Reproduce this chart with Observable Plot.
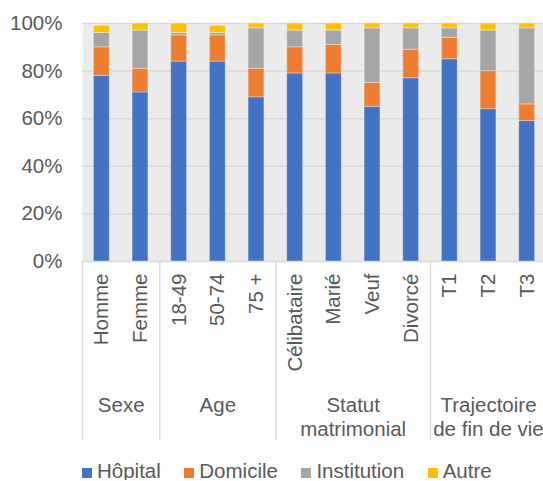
<!DOCTYPE html>
<html lang="fr">
<head>
<meta charset="utf-8">
<script src="https://cdn.jsdelivr.net/npm/d3@7"></script>
<script src="https://cdn.jsdelivr.net/npm/@observablehq/plot@0.6"></script>
<style>
  html, body { margin: 0; padding: 0; background: #fff; }
  #chart svg { display: block; }
  #legend {
    display: flex;
    align-items: baseline;
    margin-left: 82px;
    height: 18px;
    line-height: 18px;
    font-family: "Liberation Sans", Arial, sans-serif;
    font-size: 20.5px;
    color: #595959;
    white-space: nowrap;
  }
  #legend .item { display: flex; align-items: baseline; margin-right: 23.5px; }
  #legend .swatch { display: inline-block; width: 10px; height: 10px; margin-right: 5px; }
</style>
</head>
<body>
<div id="chart"></div>
<div id="legend"></div>
<script>
// Lieu de décès selon les caractéristiques (en %)
const categories = ["Homme", "Femme", "18-49", "50-74", "75 +", "Célibataire", "Marié", "Veuf", "Divorcé", "T1", "T2", "T3"];
const hopital     = [78, 71, 84, 84, 69, 79, 79, 65, 77, 85, 64, 59];
const domicile    = [12, 10, 11, 11, 12, 11, 12, 10, 12,  9, 16,  7];
const institution = [ 6, 16,  1,  1, 17,  7,  6, 23,  9,  4, 17, 32];
const autre       = [ 3,  3,  4,  3,  2,  3,  3,  2,  2,  2,  3,  2];

const groups = ["Sexe", "Age", "Statut\nmatrimonial", "Trajectoire\nde fin de vie"];
const groupSizes = [2, 3, 4, 3];

const seriesNames = ["Hôpital", "Domicile", "Institution", "Autre"];
const seriesColors = ["#4472C4", "#ED7D31", "#A5A5A5", "#FFC000"];
const yTicks = [0, 20, 40, 60, 80, 100];

// Stacked segments, one per category and series
const seriesValues = [hopital, domicile, institution, autre];
const segments = [];
categories.forEach((cat, i) => {
  let acc = 0;
  seriesValues.forEach((vals, s) => {
    segments.push({i, cat, series: seriesNames[s], y1: acc, y2: acc + vals[i]});
    acc += vals[i];
  });
});

const catRows = categories.map((cat, i) => ({i, cat, y: 0}));

// Group centres and separators on the category index axis
const groupRows = [];
const separators = [{x: -0.5, y: 0}];
let start = 0;
groups.forEach((label, g) => {
  const n = groupSizes[g];
  groupRows.push({label, center: start + (n - 1) / 2, y: 0});
  start += n;
  separators.push({x: start - 0.5, y: 0});
});

const halfBar = 0.205;

const chart = Plot.plot({
  width: 543,
  height: 462,
  marginLeft: 82,
  marginRight: 0,
  marginTop: 23,
  marginBottom: 201,
  style: {
    fontFamily: "'Liberation Sans', Arial, sans-serif",
    fontSize: "20.5px",
    color: "#595959",
    background: "#fff",
    overflow: "hidden"
  },
  x: {domain: [-0.5, categories.length - 0.5], range: [82, 546], axis: null},
  y: {
    domain: [0, 100],
    ticks: yTicks,
    tickFormat: d => d + "%",
    tickSize: 0,
    tickPadding: 20,
    label: null
  },
  color: {domain: seriesNames, range: seriesColors},
  marks: [
    Plot.frame({fill: "#ebebeb", stroke: "none"}),
    Plot.ruleY(yTicks, {stroke: "#d9d9d9", strokeWidth: 1.5}),
    Plot.rectY(segments, {
      x1: d => d.i - halfBar,
      x2: d => d.i + halfBar,
      y1: "y1",
      y2: "y2",
      fill: "series",
      stroke: "#fff",
      strokeOpacity: 0.35,
      strokeWidth: 1
    }),
    Plot.ruleX(separators, {
      x: "x", y1: "y", y2: "y",
      insetBottom: -179,
      stroke: "#d9d9d9",
      strokeWidth: 1.5
    }),
    Plot.text(catRows, {
      x: "i", y: "y", text: "cat",
      rotate: -90,
      textAnchor: "end",
      lineAnchor: "middle",
      dy: 12,
      fill: "#595959"
    }),
    Plot.text(groupRows, {
      x: "center", y: "y", text: "label",
      lineAnchor: "top",
      lineHeight: 1.17,
      dy: 133.5,
      fill: "#595959"
    })
  ]
});
document.getElementById("chart").appendChild(chart);

// Legend
const legend = d3.select("#legend");
seriesNames.forEach((name, s) => {
  const item = legend.append("div").attr("class", "item");
  item.append("span").attr("class", "swatch").style("background", seriesColors[s]);
  item.append("span").text(name);
});
</script>
</body>
</html>
